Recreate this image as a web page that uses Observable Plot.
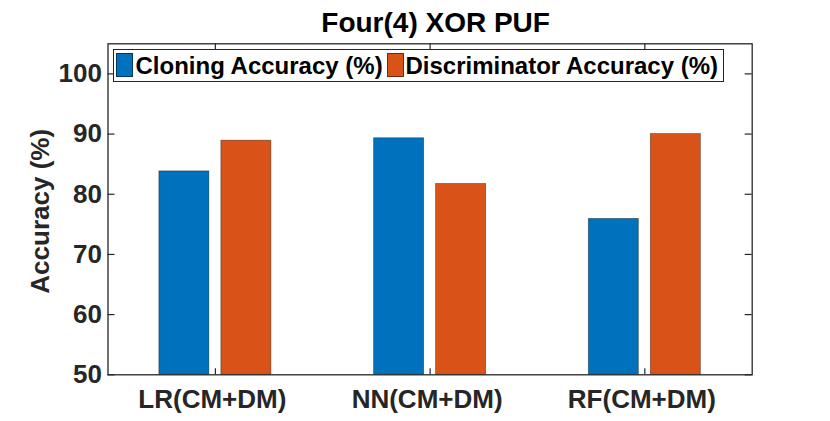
<!DOCTYPE html>
<html><head><meta charset="utf-8">
<script src="https://cdn.jsdelivr.net/npm/d3@7"></script>
<script src="https://cdn.jsdelivr.net/npm/@observablehq/plot@0.6"></script>
<style>
body{margin:0;background:#fff;}
#wrap{position:relative;width:830px;height:421px;font-family:"Liberation Sans",Arial,Helvetica,sans-serif;}
#legend{position:absolute;left:113px;top:49px;width:611px;height:33px;border:1.3px solid #262626;background:#fff;box-sizing:border-box;font-weight:bold;font-size:24px;color:#000;}
#legend .sw{position:absolute;top:3px;width:17px;height:24px;box-sizing:border-box;border:0.8px solid rgba(0,0,0,0.5);}
#legend .lb{position:absolute;top:0px;line-height:31px;white-space:nowrap;}
</style></head><body><div id="wrap"></div>
<script>
const title = "Four(4) XOR PUF";
const yLabel = "Accuracy (%)";
const categories = ["LR(CM+DM)", "NN(CM+DM)", "RF(CM+DM)"];
const series = ["Cloning Accuracy (%)", "Discriminator Accuracy (%)"];
const cloning = [83.8, 89.3, 75.9];
const discriminator = [88.9, 81.7, 90.0];
const yTicks = [50, 60, 70, 80, 90, 100];
const yDomain = [50, 105];
const colors = ["#0072BD", "#D95319"];

const W = 830, H = 421;
const mL = 107.5, mR = 78.3, mT = 43.3, mB = 46.7;
const fw = W - mL - mR, fh = H - mT - mB;
const band = fw / categories.length;
const barW = 50, off = 31;
const inset = (band - barW) / 2;

const cloneData = categories.map((c, i) => ({cat: c, series: series[0], value: cloning[i]}));
const discData = categories.map((c, i) => ({cat: c, series: series[1], value: discriminator[i]}));

const axisColor = "#262626";
const font = "Liberation Sans, Arial, Helvetica, sans-serif";

const chart = Plot.plot({
  width: W, height: H,
  marginLeft: mL, marginRight: mR, marginTop: mT, marginBottom: mB,
  style: {fontFamily: font, background: "#fff", color: axisColor},
  x: {domain: categories, padding: 0, round: false},
  y: {domain: yDomain},
  color: {domain: series, range: colors},
  marks: [
    Plot.barY(cloneData, {x: "cat", y1: () => yDomain[0], y2: "value", fill: "series", dx: -off, insetLeft: inset, insetRight: inset, stroke: "#000", strokeOpacity: 0.45, strokeWidth: 0.8}),
    Plot.barY(discData, {x: "cat", y1: () => yDomain[0], y2: "value", fill: "series", dx: off, insetLeft: inset, insetRight: inset, stroke: "#000", strokeOpacity: 0.45, strokeWidth: 0.8}),
    Plot.tickX(categories, {x: d => d, insetTop: fh - 6, stroke: axisColor, strokeWidth: 1.2}),
    Plot.tickX(categories, {x: d => d, insetBottom: fh - 6, stroke: axisColor, strokeWidth: 1.2}),
    Plot.tickY(yTicks, {y: d => d, insetRight: fw - 7, stroke: axisColor, strokeWidth: 1.2}),
    Plot.tickY(yTicks, {y: d => d, insetLeft: fw - 7, stroke: axisColor, strokeWidth: 1.2}),
    Plot.frame({stroke: axisColor, strokeWidth: 1.3}),
    Plot.axisX({tickSize: 0, tickPadding: 15, dx: -3, fontSize: 26, fontWeight: "bold", fill: axisColor, label: null, letterSpacing: "0.2px"}),
    Plot.axisY({ticks: yTicks, tickSize: 0, tickPadding: 6, fontSize: 26, fontWeight: "bold", fill: axisColor, label: null, tickFormat: d => String(d)}),
    Plot.text([yLabel], {text: d => d, frameAnchor: "left", textAnchor: "middle", rotate: -90, dx: -67, dy: 2, fontSize: 26, fontWeight: "bold", fill: axisColor, lineAnchor: "middle"}),
    Plot.text([title], {text: d => d, frameAnchor: "top", textAnchor: "middle", dy: -20.5, dx: 5.5, fontSize: 28, fontWeight: "bold", fill: "#000", lineAnchor: "middle", letterSpacing: "0.5px"})
  ]
});

const wrap = document.getElementById("wrap");
wrap.appendChild(chart);

const legend = document.createElement("div");
legend.id = "legend";
const lx = [[1.5, 21.5], [272.5, 291.5]];
series.forEach((s, i) => {
  const sw = document.createElement("div");
  sw.className = "sw";
  sw.style.left = lx[i][0] + "px";
  sw.style.background = colors[i];
  legend.appendChild(sw);
  const lb = document.createElement("div");
  lb.className = "lb";
  lb.style.left = lx[i][1] + "px";
  lb.textContent = s;
  legend.appendChild(lb);
});
wrap.appendChild(legend);
</script>
</body></html>
